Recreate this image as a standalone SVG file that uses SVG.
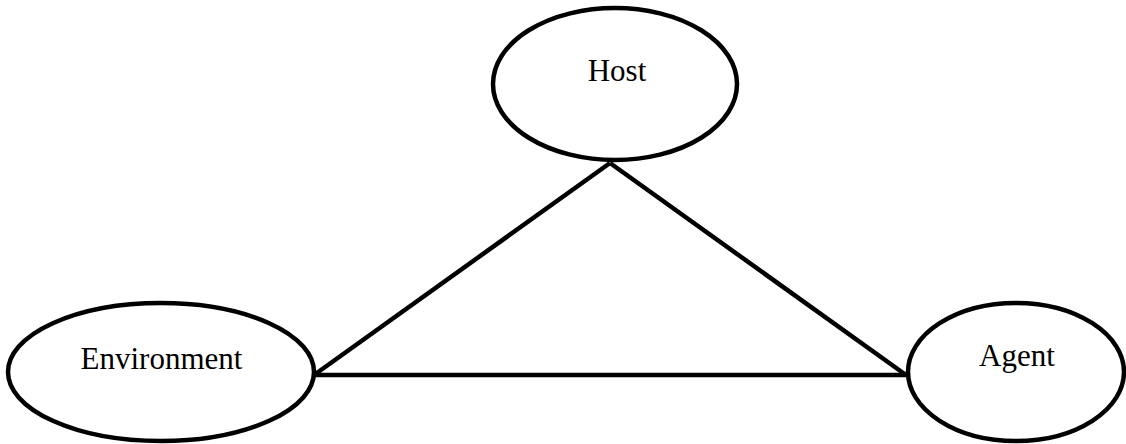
<svg xmlns="http://www.w3.org/2000/svg" width="1126" height="444" viewBox="0 0 1126 444">
<style>
.n{fill:#fff;stroke:#000;stroke-width:4.5}
.t{font-family:"Liberation Serif",serif;font-size:31px;text-anchor:middle;fill:#000}
.c{stroke:#000;stroke-width:4.5;fill:none}
</style>
<rect width="1126" height="444" fill="#fff"/>
<g id="connectors">
<line class="c" x1="610" y1="163" x2="314" y2="375"/>
<line class="c" x1="610" y1="163" x2="906" y2="375"/>
<line class="c" x1="314" y1="375" x2="906" y2="375"/>
</g>
<g id="host">
<ellipse class="n" cx="615" cy="84" rx="122" ry="76"/>
<text class="t" x="617" y="81">Host</text>
</g>
<g id="environment">
<ellipse class="n" cx="161" cy="372" rx="153" ry="69"/>
<text class="t" x="161.5" y="369">Environment</text>
</g>
<g id="agent">
<ellipse class="n" cx="1016" cy="372" rx="108" ry="69"/>
<text class="t" x="1017" y="366">Agent</text>
</g>
</svg>
